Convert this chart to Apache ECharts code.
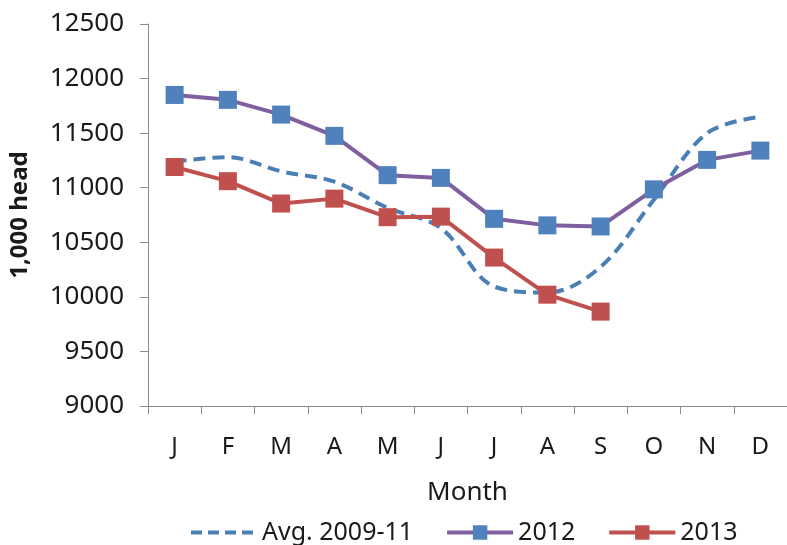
<!DOCTYPE html>
<html><head><meta charset="utf-8">
<script src="https://cdn.jsdelivr.net/npm/echarts@6/dist/echarts.min.js"></script>
<style>html,body{margin:0;padding:0;background:#fff}#c{width:787px;height:545px}</style>
</head><body><div id="c"></div>
<script>
const months = ['J','F','M','A','M','J','J','A','S','O','N','D'];
const avg0911 = [11240, 11280, 11150, 11055, 10815, 10630, 10095, 10040, 10275, 10890, 11500, 11650];
const y2012 = [11850, 11805, 11670, 11475, 11115, 11090, 10715, 10655, 10645, 10985, 11255, 11340];
const y2013 = [11190, 11060, 10855, 10900, 10730, 10735, 10360, 10020, 9865];
const yTicks = [9000, 12500, 500];

const font = 'Noto Sans';
const chart = echarts.init(document.getElementById('c'));
chart.setOption({
  animation: false,
  grid: {left: 148, top: 24, right: 0, bottom: 139},
  legend: {
    top: 515, left: 184, itemWidth: 66, itemHeight: 18, itemGap: 32,
    textStyle: {fontFamily: font, fontSize: 25, color: '#1a1a1a'},
    data: [
      {name: 'Avg. 2009-11', itemStyle: {opacity: 0}, lineStyle: {width: 4, type: [11, 6]}},
      {name: '2012', lineStyle: {width: 4}},
      {name: '2013', lineStyle: {width: 4}}
    ]
  },
  xAxis: {
    type: 'category', data: months, boundaryGap: true,
    name: 'Month', nameLocation: 'middle', nameGap: 74,
    nameTextStyle: {fontFamily: font, fontSize: 26, color: '#1a1a1a'},
    axisLine: {lineStyle: {color: '#8a8a8a', width: 1}},
    axisTick: {show: true, length: 8, alignWithLabel: false, lineStyle: {color: '#8a8a8a'}},
    axisLabel: {fontFamily: font, fontSize: 24, color: '#1a1a1a', margin: 29}
  },
  yAxis: {
    type: 'value', min: yTicks[0], max: yTicks[1], interval: yTicks[2],
    name: '1,000 head', nameLocation: 'middle', nameGap: 116,
    nameTextStyle: {fontFamily: font, fontSize: 24, fontWeight: 'bold', color: '#1a1a1a'},
    axisLine: {show: true, lineStyle: {color: '#8a8a8a', width: 1}},
    axisTick: {show: true, length: 8, inside: false, lineStyle: {color: '#8a8a8a'}},
    splitLine: {show: false},
    axisLabel: {fontFamily: font, fontSize: 26, color: '#1a1a1a', margin: 24, formatter: v => String(v)}
  },
  series: [
    {name: 'Avg. 2009-11', type: 'line', data: avg0911, smooth: 0.35, symbol: 'none',
     itemStyle: {color: '#4a7fb5'},
     lineStyle: {color: '#4a7fb5', width: 4, type: [12, 7]}},
    {name: '2012', type: 'line', data: y2012, symbol: 'rect', symbolSize: 18,
     itemStyle: {color: '#4f81bd'},
     lineStyle: {color: '#7f5fa0', width: 4}},
    {name: '2013', type: 'line', data: y2013, symbol: 'rect', symbolSize: 18,
     itemStyle: {color: '#c0504d'},
     lineStyle: {color: '#c0504d', width: 4}}
  ]
});
</script></body></html>
